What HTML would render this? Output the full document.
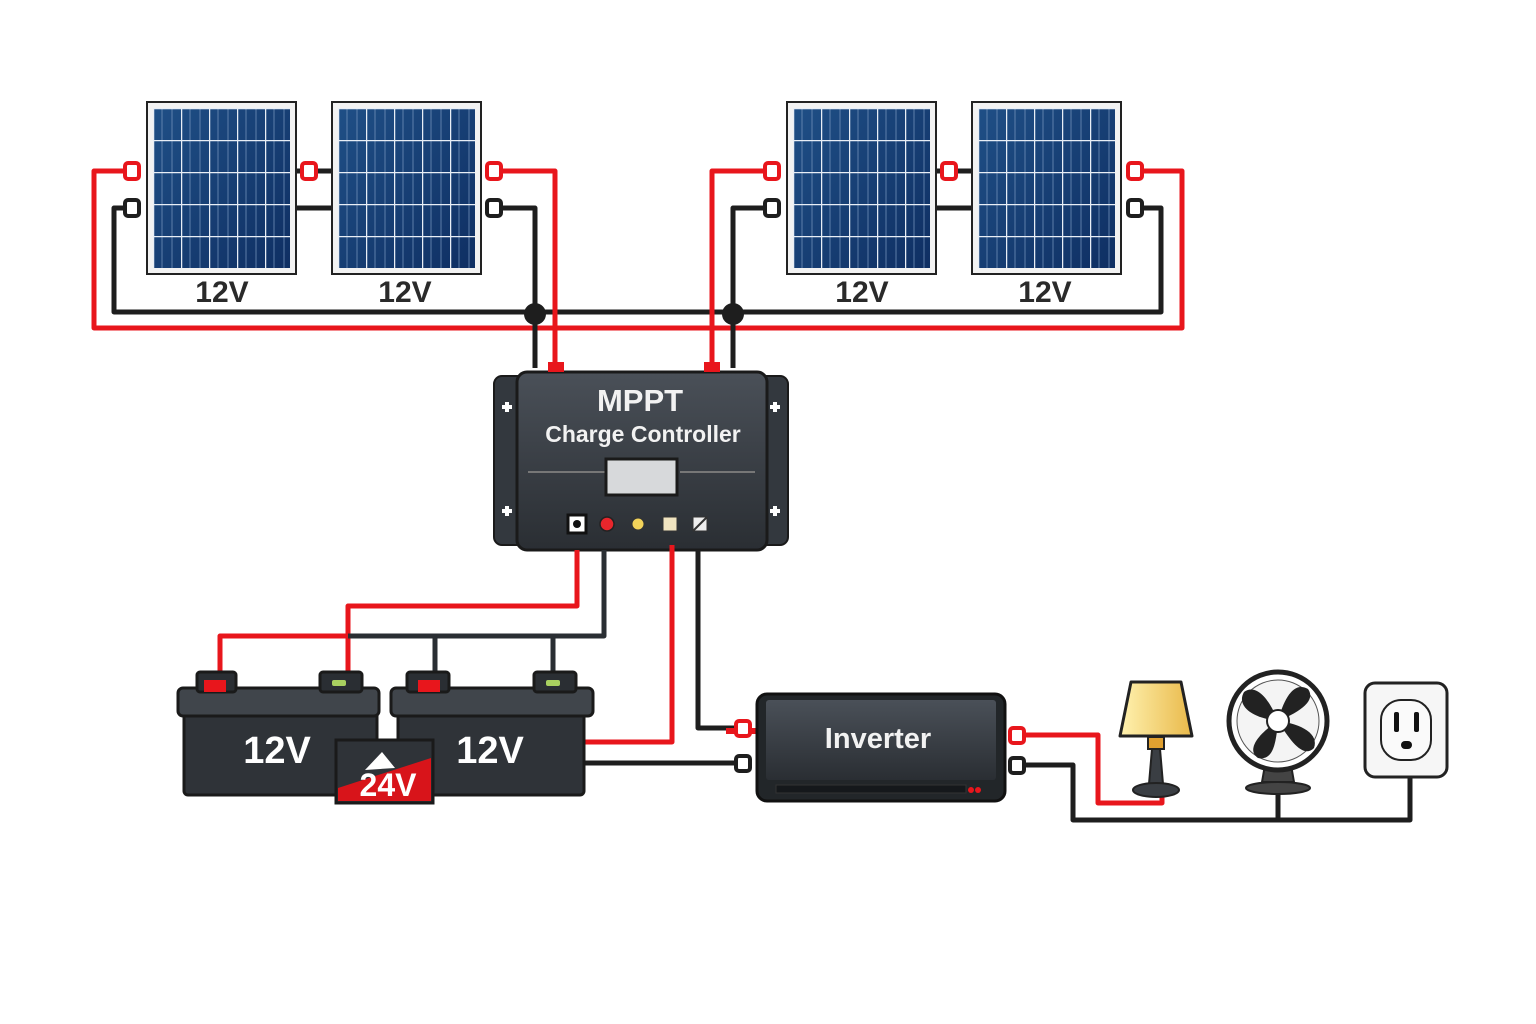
<!DOCTYPE html>
<html><head><meta charset="utf-8"><style>
html,body{margin:0;padding:0;background:#fff;}
svg{display:block;}
text{font-family:"Liberation Sans","DejaVu Sans",sans-serif;font-weight:bold;}
</style></head><body>
<svg width="1536" height="1024" viewBox="0 0 1536 1024" xmlns="http://www.w3.org/2000/svg">
<defs>
<linearGradient id="pv" x1="0" y1="0" x2="1" y2="1"><stop offset="0" stop-color="#1f4f86"/><stop offset="1" stop-color="#0f2f63"/></linearGradient>
<pattern id="cells" x="6" y="6" width="28" height="32" patternUnits="userSpaceOnUse">
<rect width="28" height="32" fill="none"/>
<line x1="9" y1="0" x2="9" y2="32" stroke="#6f8fb8" stroke-width="0.8"/>
<line x1="19" y1="0" x2="19" y2="32" stroke="#6f8fb8" stroke-width="0.8"/>
<line x1="0" y1="0" x2="28" y2="0" stroke="#e8eef6" stroke-width="2.5"/>
<line x1="0" y1="0" x2="0" y2="32" stroke="#e8eef6" stroke-width="2.5"/>
</pattern>
<linearGradient id="dk" x1="0" y1="0" x2="0" y2="1"><stop offset="0" stop-color="#4a5058"/><stop offset="1" stop-color="#2a2e33"/></linearGradient>
<linearGradient id="shade" x1="0" y1="0" x2="1" y2="0"><stop offset="0" stop-color="#fff2b0"/><stop offset="1" stop-color="#e9b94a"/></linearGradient>
<g id="panel">
<rect x="0" y="0" width="149" height="172" fill="#f2f2f2" stroke="#222" stroke-width="2"/>
<rect x="6" y="6" width="137" height="160" fill="url(#pv)"/>
<rect x="6" y="6" width="137" height="160" fill="url(#cells)"/>
</g>
</defs>

<g fill="none" stroke-linejoin="round" stroke-width="5">
<path d="M132 171 H94 V328 H1182 V171 H1135" stroke="#e8161c"/>
<path d="M132 208 H114 V312 H1161 V208 H1135" stroke="#1e1e1e"/>
<path d="M296 208 H331" stroke="#1e1e1e"/>
<path d="M296 171 H331" stroke="#1e1e1e"/>
<path d="M936 208 H971" stroke="#1e1e1e"/>
<path d="M936 171 H971" stroke="#1e1e1e"/>
<path d="M494 171 H555 V368" stroke="#e8161c"/>
<path d="M494 208 H535 V368" stroke="#1e1e1e"/>
<path d="M772 171 H712 V368" stroke="#e8161c"/>
<path d="M772 208 H733 V368" stroke="#1e1e1e"/>
</g>
<circle cx="535" cy="314" r="11" fill="#1e1e1e"/>
<circle cx="733" cy="314" r="11" fill="#1e1e1e"/>

<use href="#panel" x="147" y="102"/>
<use href="#panel" x="332" y="102"/>
<use href="#panel" x="787" y="102"/>
<use href="#panel" x="972" y="102"/>
<g font-size="30" fill="#2a2a2a" text-anchor="middle">
<text x="222" y="302">12V</text><text x="405" y="302">12V</text>
<text x="862" y="302">12V</text><text x="1045" y="302">12V</text>
</g>
<g stroke-width="4">
<rect x="125" y="163" width="14" height="16" rx="3" fill="#fff" stroke="#e8161c"/>
<rect x="302" y="163" width="14" height="16" rx="3" fill="#fff" stroke="#e8161c"/>
<rect x="487" y="163" width="14" height="16" rx="3" fill="#fff" stroke="#e8161c"/>
<rect x="765" y="163" width="14" height="16" rx="3" fill="#fff" stroke="#e8161c"/>
<rect x="942" y="163" width="14" height="16" rx="3" fill="#fff" stroke="#e8161c"/>
<rect x="1128" y="163" width="14" height="16" rx="3" fill="#fff" stroke="#e8161c"/>
<rect x="125" y="200" width="14" height="16" rx="3" fill="#fff" stroke="#1e1e1e"/>
<rect x="487" y="200" width="14" height="16" rx="3" fill="#fff" stroke="#1e1e1e"/>
<rect x="765" y="200" width="14" height="16" rx="3" fill="#fff" stroke="#1e1e1e"/>
<rect x="1128" y="200" width="14" height="16" rx="3" fill="#fff" stroke="#1e1e1e"/>
</g>

<rect x="494" y="376" width="294" height="169" rx="8" fill="#33383e" stroke="#1a1a1a" stroke-width="2"/>
<rect x="517" y="372" width="250" height="178" rx="10" fill="url(#dk)" stroke="#1a1a1a" stroke-width="3"/>
<rect x="548" y="362" width="16" height="10" fill="#e8161c"/>
<rect x="704" y="362" width="16" height="10" fill="#e8161c"/>
<g fill="#fff"><path d="M502 405h10v4h-10zM505 402h4v10h-4zM502 509h10v4h-10zM505 506h4v10h-4zM770 405h10v4h-10zM773 402h4v10h-4zM770 509h10v4h-10zM773 506h4v10h-4z"/></g>
<text x="640" y="411" font-size="31" fill="#f2f2f2" text-anchor="middle">MPPT</text>
<text x="643" y="442" font-size="23" fill="#f2f2f2" text-anchor="middle" font-weight="normal">Charge Controller</text>
<line x1="528" y1="472" x2="606" y2="472" stroke="#777" stroke-width="2"/>
<line x1="680" y1="472" x2="755" y2="472" stroke="#777" stroke-width="2"/>
<rect x="606" y="459" width="71" height="36" fill="#d7d9db" stroke="#1a1a1a" stroke-width="3"/>
<rect x="568" y="515" width="18" height="18" fill="#fff" stroke="#111" stroke-width="3"/>
<circle cx="577" cy="524" r="4" fill="#111"/>
<circle cx="607" cy="524" r="7" fill="#e8262c" stroke="#222" stroke-width="1.5"/>
<circle cx="638" cy="524" r="6" fill="#f2d35a" stroke="#333"/>
<rect x="663" y="517" width="14" height="14" fill="#f0e4c0" stroke="#333"/>
<rect x="693" y="517" width="14" height="14" fill="#eee" stroke="#333"/>
<line x1="693" y1="531" x2="707" y2="517" stroke="#333" stroke-width="2"/>

<g fill="none" stroke-linejoin="round" stroke-width="5">
<path d="M577 550 V606 H348 V672" stroke="#e8161c"/>
<path d="M220 672 V636 H348" stroke="#e8161c"/>
<path d="M348 636 H604 V550" stroke="#2a2e33"/>
<path d="M435 636 V672 M553 636 V672" stroke="#2a2e33"/>
<path d="M672 545 V742 H585" stroke="#e8161c"/>
<path d="M698 550 V728 H742" stroke="#1e1e1e"/>
<path d="M585 763 H742" stroke="#1e1e1e"/>
<path d="M1017 735 H1098 V803 H1162 V790" stroke="#e8161c"/>
<path d="M1017 765 H1073 V820 H1410 V778 M1278 820 V790" stroke="#1e1e1e"/>
</g>
<rect x="726" y="728" width="30" height="6" fill="#e8161c"/>

<g stroke="#1a1a1a" stroke-width="3">
<rect x="184" y="710" width="193" height="85" rx="4" fill="#2f3338"/>
<rect x="178" y="688" width="201" height="28" rx="5" fill="#40454b"/>
<rect x="197" y="672" width="39" height="20" rx="3" fill="#2a2e33"/>
<rect x="320" y="672" width="42" height="20" rx="3" fill="#2a2e33"/>
<rect x="398" y="710" width="186" height="85" rx="4" fill="#2f3338"/>
<rect x="391" y="688" width="202" height="28" rx="5" fill="#40454b"/>
<rect x="407" y="672" width="42" height="20" rx="3" fill="#2a2e33"/>
<rect x="534" y="672" width="42" height="20" rx="3" fill="#2a2e33"/>
</g>
<rect x="204" y="680" width="22" height="12" fill="#e8161c"/>
<rect x="418" y="680" width="22" height="12" fill="#e8161c"/>
<rect x="332" y="680" width="14" height="6" rx="2" fill="#a8d060"/>
<rect x="546" y="680" width="14" height="6" rx="2" fill="#a8d060"/>
<text x="277" y="763" font-size="38" fill="#fff" text-anchor="middle">12V</text>
<text x="490" y="763" font-size="38" fill="#fff" text-anchor="middle">12V</text>
<rect x="336" y="740" width="97" height="63" fill="#2f3338" stroke="#1a1a1a" stroke-width="3"/>
<path d="M338 801 L338 788 L431 758 L431 801 Z" fill="#d8141a"/>
<path d="M365 770 L382 752 L395 768 Z" fill="#fff"/>
<text x="388" y="796" font-size="32" fill="#fff" text-anchor="middle">24V</text>

<rect x="757" y="694" width="248" height="107" rx="10" fill="#222629" stroke="#111" stroke-width="3"/>
<rect x="766" y="700" width="230" height="80" rx="3" fill="url(#dk)"/>
<rect x="776" y="785" width="190" height="8" fill="#15181b" stroke="#333"/>
<circle cx="971" cy="790" r="3" fill="#e8161c"/><circle cx="978" cy="790" r="3" fill="#e8161c"/>
<text x="878" y="748" font-size="29" fill="#f2f2f2" text-anchor="middle">Inverter</text>
<g stroke-width="4">
<rect x="736" y="721" width="14" height="15" rx="3" fill="#fff" stroke="#e8161c"/>
<rect x="736" y="756" width="14" height="15" rx="3" fill="#fff" stroke="#1e1e1e"/>
<rect x="1010" y="728" width="14" height="15" rx="3" fill="#fff" stroke="#e8161c"/>
<rect x="1010" y="758" width="14" height="15" rx="3" fill="#fff" stroke="#1e1e1e"/>
</g>

<path d="M1131 682 H1181 L1192 736 H1120 Z" fill="url(#shade)" stroke="#222" stroke-width="3" stroke-linejoin="round"/>
<rect x="1148" y="737" width="16" height="12" fill="#e0a030" stroke="#222" stroke-width="2"/>
<path d="M1152 749 H1160 L1163 784 H1149 Z" fill="#3a3e43" stroke="#222" stroke-width="2"/>
<ellipse cx="1156" cy="790" rx="23" ry="7" fill="#3a3e43" stroke="#222" stroke-width="2"/>
<path d="M1265 765 L1262 782 H1294 L1291 765 Z" fill="#444" stroke="#222" stroke-width="2"/>
<ellipse cx="1278" cy="788" rx="32" ry="6" fill="#444" stroke="#222" stroke-width="2"/>
<circle cx="1278" cy="721" r="49" fill="#fff" stroke="#222" stroke-width="5"/>
<circle cx="1278" cy="721" r="41" fill="#f4f4f4" stroke="#555" stroke-width="1"/>
<g fill="#222">
<path d="M1278 721 C1268 696 1255 684 1244 692 C1236 706 1252 718 1278 721Z"/>
<path d="M1278 721 C1302 711 1316 700 1308 689 C1294 681 1284 698 1278 721Z"/>
<path d="M1278 721 C1292 744 1304 758 1314 748 C1319 734 1302 724 1278 721Z"/>
<path d="M1278 721 C1258 734 1246 750 1258 758 C1273 761 1276 744 1278 721Z"/>
</g>
<circle cx="1278" cy="721" r="11" fill="#fff" stroke="#222" stroke-width="2"/>
<rect x="1365" y="683" width="82" height="94" rx="10" fill="#f6f6f6" stroke="#222" stroke-width="3"/>
<rect x="1381" y="700" width="50" height="60" rx="20" fill="#fafafa" stroke="#222" stroke-width="2"/>
<rect x="1394" y="712" width="5" height="20" rx="2" fill="#111"/>
<rect x="1414" y="712" width="5" height="20" rx="2" fill="#111"/>
<rect x="1401" y="741" width="11" height="8" rx="4" fill="#111"/>
</svg>
</body></html>
